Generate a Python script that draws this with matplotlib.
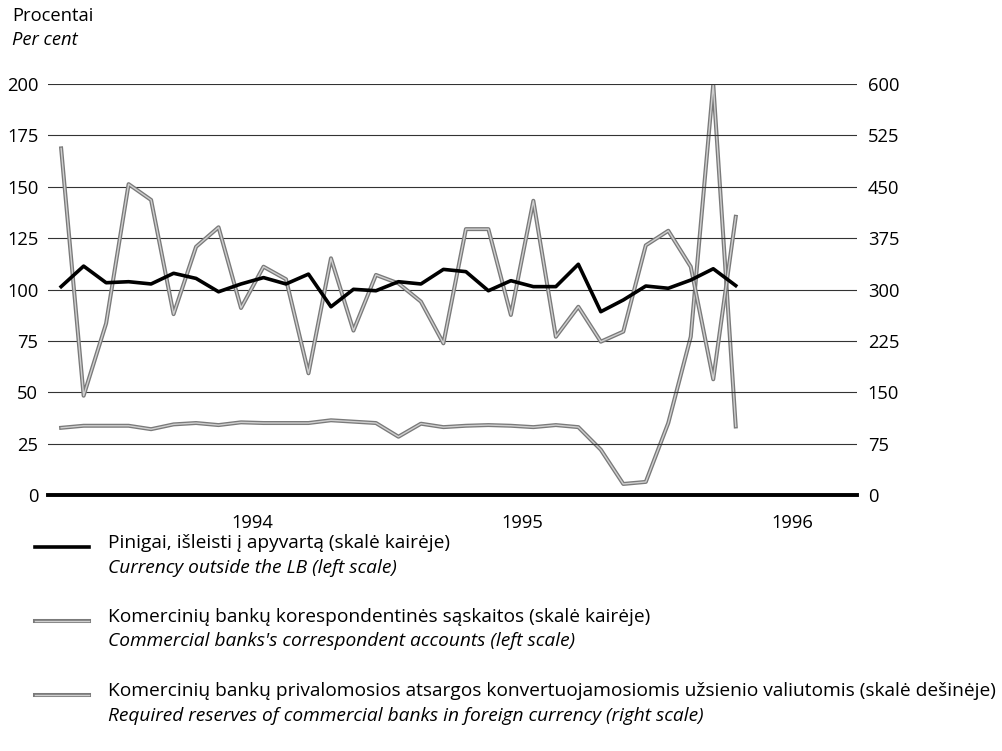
import numpy as np
import matplotlib
matplotlib.use("Agg")
import matplotlib.pyplot as plt
import matplotlib.patheffects as pe
from matplotlib.lines import Line2D

plt.rcParams['font.family'] = ['Open Sans', 'DejaVu Sans']

# monthly data, Oct 1993 - Apr 1996
currency = [101.4, 111.4, 103.3, 103.8, 102.7, 107.9, 105.4, 98.9, 102.7, 105.8,
            102.7, 107.5, 91.6, 100.1, 99.4, 103.8, 102.7, 109.8, 108.7, 99.4,
            104.3, 101.4, 101.4, 112.3, 89.2, 94.9, 101.7, 100.6, 104.6, 110.1, 101.9]
corresp = [168.7, 48.3, 83.5, 151.3, 143.6, 88.0, 120.8, 130.3, 91.0, 111.1,
           105.0, 59.2, 115.2, 80.0, 107.1, 103.0, 94.1, 73.8, 129.4, 129.4,
           87.6, 143.2, 77.0, 91.6, 74.6, 79.5, 121.5, 128.6, 111.1, 56.3, 135.4]
reserves = [98, 101, 101, 101, 96, 103, 105, 102, 106, 105,
            105, 105, 109, 107, 105, 85, 104, 99, 101, 102,
            101, 99, 102, 99, 66, 16, 19, 105, 231, 600, 100]
years = ['1994', '1995', '1996']
left_ticks = [0, 25, 50, 75, 100, 125, 150, 175, 200]
right_ticks = [0, 75, 150, 225, 300, 375, 450, 525, 600]

legend_lt = ['Pinigai, išleisti į apyvartą (skalė kairėje)',
             'Komercinių bankų korespondentinės sąskaitos (skalė kairėje)',
             'Komercinių bankų privalomosios atsargos konvertuojamosiomis užsienio valiutomis (skalė dešinėje)']
legend_en = ['Currency outside the LB (left scale)',
             "Commercial banks's correspondent accounts (left scale)",
             'Required reserves of commercial banks in foreign currency (right scale)']

FS = 13.2
LFS = 13.8
fig = plt.figure(figsize=(10.02, 7.51), dpi=100)
ax = fig.add_axes([0.048, 0.341, 0.807, 0.547])
ax2 = ax.twinx()

x = np.arange(len(currency))

hollow = [pe.Stroke(linewidth=2.9, foreground='#7a7a7a'), pe.Normal()]

ax2.plot(x, reserves, color='#cfcfcf', lw=1.0, path_effects=hollow, zorder=3)
ax.plot(x, corresp, color='#cfcfcf', lw=1.0, path_effects=hollow, zorder=3)
ax.plot(x, currency, color='black', lw=2.6, zorder=4)

ax.set_zorder(ax2.get_zorder() + 1)
ax.patch.set_visible(False)

ax.set_xlim(-0.58, 35.38)
ax.set_ylim(0, 200)
ax2.set_ylim(0, 600)
ax.set_yticks(left_ticks)
ax2.set_yticks(right_ticks)
ax.grid(axis='y', color='#333333', lw=0.8)
ax.set_xticks([8.5, 20.5, 32.5])
ax.set_xticklabels(years)

for a in (ax, ax2):
    for s in a.spines.values():
        s.set_visible(False)
    a.tick_params(length=0, labelsize=FS)
ax.tick_params(axis='y', pad=7)
ax2.tick_params(axis='y', pad=8)
ax.tick_params(axis='x', pad=14)
ax.axhline(0, color='black', lw=2.8, zorder=5, clip_on=False)

fig.text(0.012, 0.979, 'Procentai', fontsize=FS, va='center')
fig.text(0.012, 0.947, 'Per cent', fontsize=FS, style='italic', va='center')

ys = [0.275, 0.177, 0.078]
for i in range(3):
    y = ys[i]
    fig.add_artist(Line2D([0.035, 0.089], [y - 0.004, y - 0.004], color='black' if i == 0 else '#cfcfcf',
                          lw=2.6 if i == 0 else 1.0,
                          path_effects=None if i == 0 else hollow))
    fig.text(0.108, y + 0.002, legend_lt[i], fontsize=LFS, va='center')
    fig.text(0.108, y - 0.031, legend_en[i], fontsize=LFS, style='italic', va='center')

fig.savefig('out.png', dpi=100)
